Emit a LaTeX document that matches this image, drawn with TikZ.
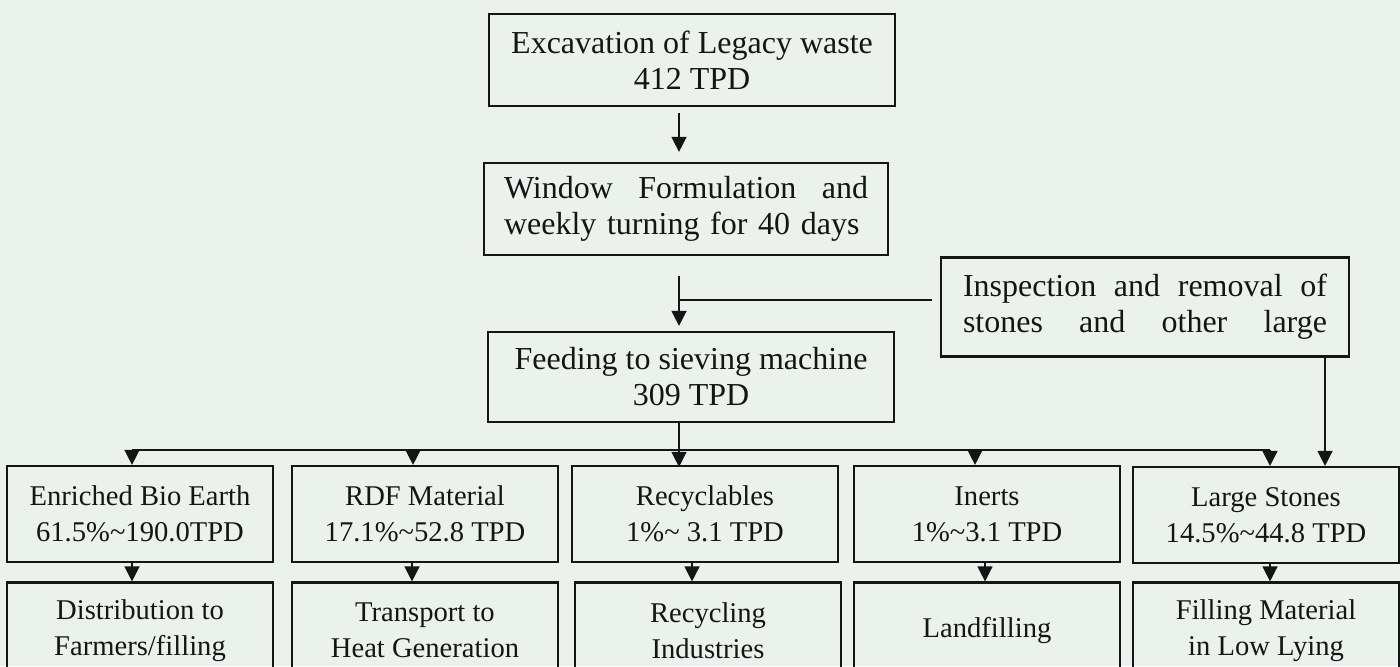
\documentclass[tikz,border=0pt]{standalone}
\usepackage{fontspec}
\setmainfont{Liberation Serif}
\usetikzlibrary{arrows.meta,positioning,calc}
\definecolor{lwpaper}{HTML}{EBF2EC}
\definecolor{lwink}{HTML}{151515}
\newcommand{\spreadline}[2]{\hbox to #1{#2}}
\tikzset{
  box/.style  = {rectangle, draw=lwink, line width=1.1pt, text=lwink,
                 inner sep=0pt, align=center},
  head/.style = {box, minimum width=203pt, minimum height=46pt,
                 font=\fontsize{16}{18}\selectfont},
  prod/.style = {box, minimum width=133pt, minimum height=48pt,
                 font=\fontsize{14.3}{18}\selectfont},
  arr/.style  = {-{Triangle[length=7.5pt,width=7.5pt]}, draw=lwink, line width=0.7pt},
  ln/.style   = {draw=lwink, line width=0.7pt},
}

\begin{document}
\begin{tikzpicture}[x=0.5pt,y=-0.5pt]
  \useasboundingbox (0,0) rectangle (1400,666);
  \clip (0,0) rectangle (1400,666);
  \fill[lwpaper] (0,0) rectangle (1400,666);

  % --- main line
  \node[head] (excav) at (692,60) {Excavation of Legacy waste\\412 TPD};
  \node[head, text width=182pt, align=left, minimum width=202pt] (window) at (686,209)
    {\spreadline{182pt}{Window\hfill Formulation\hfill and}\\weekly turning for 40 days};
  \node[head, minimum height=45pt] (feed) at (691,377) {Feeding to sieving machine\\309 TPD};
  \node[head, text width=182pt, align=left, minimum width=204pt, minimum height=49.5pt]
    (insp) at (1145,307)
    {\spreadline{182pt}{Inspection\hfill and\hfill removal\hfill of}\\
     \spreadline{182pt}{stones\hfill and\hfill other\hfill large}};

  \coordinate (spine) at (679,0);
  \coordinate (join) at (679,300);
  \draw[arr, shorten <=3pt, shorten >=5pt] (excav.south -| spine) -- (window.north -| spine);
  \draw[arr, shorten <=10pt, shorten >=2.5pt] (window.south -| spine) -- (feed.north -| spine);
  \draw[ln, shorten >=4pt] (join) -- (join -| insp.west);

  % --- products
  \node[prod] (bio)   at (140,514)  {Enriched Bio Earth\\61.5\%\textasciitilde190.0TPD};
  \node[prod] (rdf)   at (425,514)  {RDF Material\\17.1\%\textasciitilde52.8 TPD};
  \node[prod] (recy)  at (705,514)  {Recyclables\\1\%\textasciitilde{} 3.1 TPD};
  \node[prod] (inert) at (987,514)  {Inerts\\1\%\textasciitilde3.1 TPD};
  \node[prod] (stone) at (1266,515) {Large Stones\\14.5\%\textasciitilde44.8 TPD};

  % --- uses
  \node[prod] (dist)   at (140,630.5)  {Distribution to\\Farmers/filling};
  \node[prod] (trans)  at (425,630.5)  {Transport to\\Heat Generation};
  \node[prod] (recind) at (708,630.5)  {Recycling\\Industries};
  \node[prod] (landf)  at (987,630.5)  {Landfilling};
  \node[prod] (fill)   at (1266,630.5) {Filling Material\\in Low Lying};

  % --- distribution bus
  \coordinate (busL) at (132,450);
  \coordinate (busR) at (1270,450);
  \draw[arr] (feed.south -| spine) -- ([yshift=-1pt]spine |- recy.north);
  \draw[ln] (busL) -- (busR);
  \foreach \x/\n in {132/bio, 413/rdf, 975/inert, 1270/stone}{
    \coordinate (drop) at (\x,450);
    \draw[arr] (drop) -- (drop |- \n.north);
  }
  \coordinate (side) at (1325,0);
  \draw[arr] (side |- insp.south) -- (side |- stone.north);

  % --- products to uses
  \foreach \x/\a/\b in {132/bio/dist, 412/rdf/trans, 692/recy/recind,
                        985/inert/landf, 1270/stone/fill}{
    \coordinate (drop) at (\x,0);
    \draw[arr] (drop |- \a.south) -- (drop |- \b.north);
  }
\end{tikzpicture}
\end{document}
